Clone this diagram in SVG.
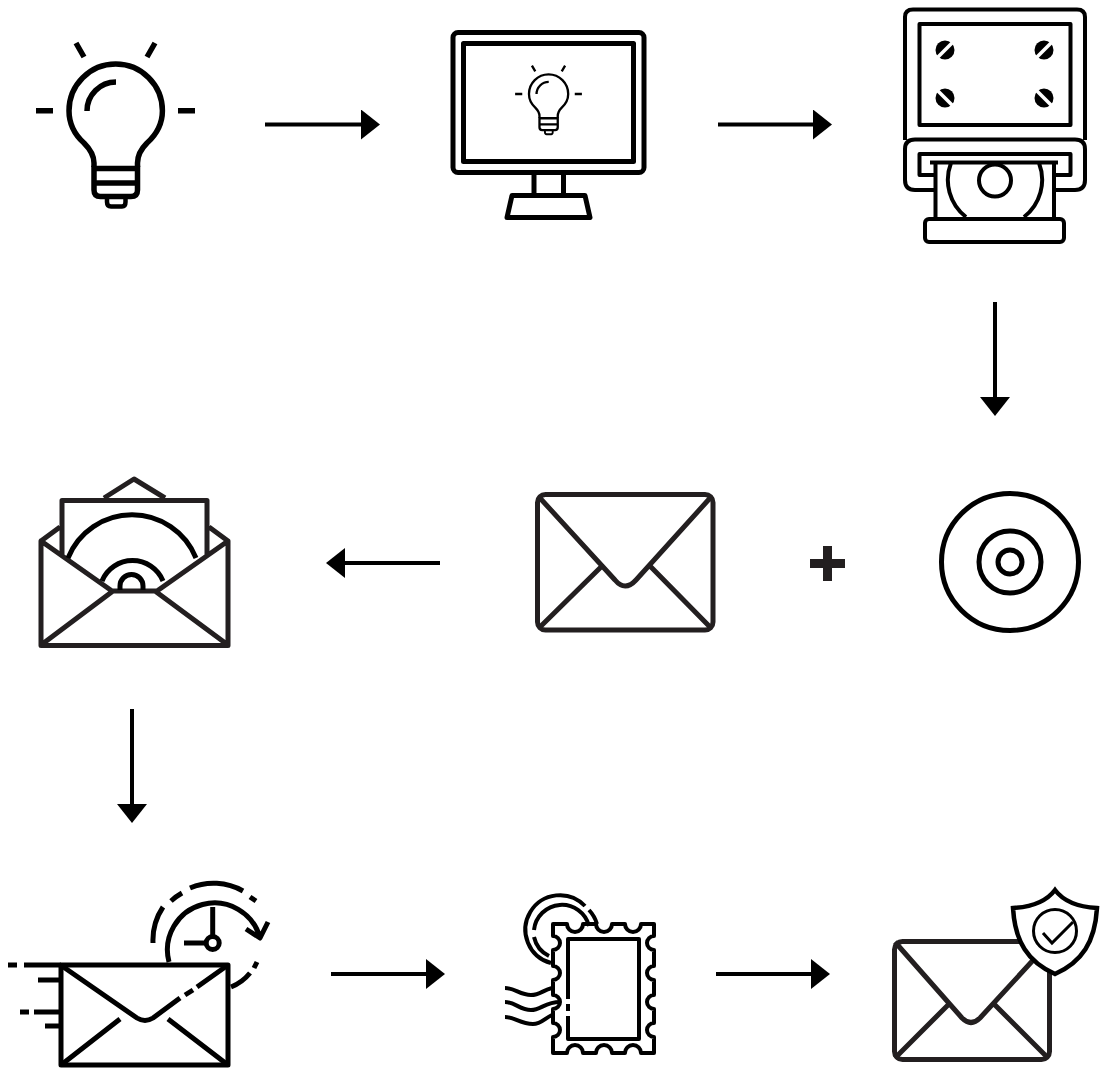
<svg xmlns="http://www.w3.org/2000/svg" xmlns:xlink="http://www.w3.org/1999/xlink" width="1102" height="1068" viewBox="0 0 1102 1068">
<style>
.k{fill:none;stroke:#000;stroke-width:5;stroke-linejoin:round}
.d{fill:none;stroke:#231f20;stroke-width:5;stroke-linejoin:round}
.t{stroke-width:4}
.c{stroke:#000;stroke-width:4;fill:none}
.w{stroke:#fff;stroke-width:3.5}
</style>
<defs>
<marker id="ah" markerUnits="userSpaceOnUse" markerWidth="20" markerHeight="30" refX="0" refY="15" orient="auto"><path d="M0 0L19 15L0 30Z" fill="#000"/></marker>
<g id="bulb" fill="none" stroke="#000" stroke-width="5.5">
<path d="M94 167V163C94 155 90 149 84 143C74 134 69 123 69 110.7A46.7 46.7 0 0 1 162.4 110.7C162.4 123 157 134 147 143C141 149 137.5 155 137.5 163V167"/>
<path d="M94 168.5H137.5V190Q137.5 196.5 131 196.5H100.500Q94 196.500 94 190ZM94 183H137.500"/>
<path d="M107 198V202Q107 206.500 111 206.500H122Q125.500 206.500 125.500 202V198" stroke-width="4.500"/>
<path d="M87 111A29 29 0 0 1 116 82M36 110.700H53M178 110.700H195M76 43L84 57M155 43L147 57"/>
</g>
<g id="screwA"><circle r="9.500" fill="#000"/><path class="w" d="M-9 9L9 -9"/></g>
<g id="screwB"><circle r="9.500" fill="#000"/><path class="w" d="M-9 -9L9 9"/></g>
</defs>
<g id="connectors">
<path class="c" marker-end="url(#ah)" d="M265 124.500H361"/>
<path class="c" marker-end="url(#ah)" d="M718 124.500H813"/>
<path class="c" marker-end="url(#ah)" d="M995 302V397"/>
<path class="c" marker-end="url(#ah)" d="M440 563H345"/>
<path class="c" marker-end="url(#ah)" d="M132 709V804"/>
<path class="c" marker-end="url(#ah)" d="M331 974H426"/>
<path class="c" marker-end="url(#ah)" d="M716 974H811"/>
</g>
<g id="idea"><use href="#bulb"/></g>
<g id="monitor">
<rect class="k" x="453" y="32.500" width="191" height="140" rx="5"/>
<rect class="k" x="463.500" y="43.500" width="170" height="118"/>
<path class="k" d="M534 175V195M563.500 175V195M512 195.500H585L590 217.500H507Z"/>
<use href="#bulb" transform="translate(500 47.500) scale(.42)"/>
</g>
<g id="duplicator">
<path class="k t" d="M905 140V17Q905 9.500 913 9.500H1077Q1085 9.500 1085 17V140"/>
<path class="k t" d="M935 190H915Q905 190 905 180V149Q905 139.500 915 139.500H1075Q1085 139.500 1085 149V180Q1085 190 1075 190H1055"/>
<rect class="k t" x="919.500" y="24" width="151" height="101"/>
<use href="#screwA" x="945" y="50"/><use href="#screwA" x="1044" y="50"/>
<use href="#screwB" x="945" y="98"/><use href="#screwB" x="1044" y="98"/>
<path class="k t" d="M935 175H919.500V154H1070.500V175H1055"/>
<path class="k t" d="M930 162.500H1058M935.500 162V218M1054 162V218M951 163A47 47 0 0 0 966 217M1039 163A47 47 0 0 1 1024 217"/>
<circle class="k t" cx="995" cy="180.500" r="16"/>
<rect class="k t" x="925" y="219" width="139" height="23" rx="4"/>
</g>
<g id="disc">
<circle class="k" cx="1010" cy="562" r="68.500"/>
<circle class="k" cx="1010" cy="562" r="31"/>
<circle class="k" cx="1010" cy="562" r="12"/>
</g>
<g id="plus"><path d="M810 559H823V546H832V559H845V568H832V581H823V568H810Z" fill="#231f20"/></g>
<g id="envelope">
<rect class="d" x="537.500" y="494.500" width="175.500" height="135.500" rx="8"/>
<path class="d" d="M539 497L615 580Q625 592 636 580L711 497M539 628L602 566M711 628L650 566"/>
</g>
<g id="envelope-with-disc">
<path class="d" d="M41 541V645.500H228V541L157 591H112ZM41 541L60 527M228 541L209 527M62 555V500.500H207V555M104 498L134 479L165 498M41 645L113 591M228 645L155 591"/>
<path class="k" d="M68 558A69 69 0 0 1 196 558M102 581A33 33 0 0 1 163 581M120 590V586A11.500 11.500 0 0 1 143 586V590"/>
</g>
<g id="timed-mail">
<rect class="k" x="61" y="965" width="167" height="100" stroke-width="5.500"/>
<path class="k" d="M8 965H17M24 965H61M38 980H60M20 1012H29M34 1012H60M45 1026H60"/>
<path class="k" d="M62 966L137 1018Q145 1023 153 1018L180 998M185 995L193 990M197 987L228 965M61 1065L120 1019M228 1065L168 1019"/>
<path class="k" d="M169 962A47 47 0 1 1 260 938M246 929L260 938L268 922M257 962L254 968M250 973A47 47 0 0 1 231 987M212.700 907V937M184 943H206"/>
<circle class="k" cx="212.700" cy="943" r="6.500" stroke-width="4.500"/>
<path class="k" d="M153 943A60 60 0 0 1 163 907M171 901A60 60 0 0 1 182 893M190 888A60 60 0 0 1 243 891M250 897L256 901"/>
</g>
<g id="stamp">
<path class="k t" d="M553 924H567A8 8 0 0 0 583 924H596A8 8 0 0 0 612 924H625A8 8 0 0 0 641 924H654V936A7 7 0 0 0 654 950V966A7 7 0 0 0 654 980V995A7 7 0 0 0 654 1009V1023A7 7 0 0 0 654 1037V1053H641A8 8 0 0 0 625 1053H612A8 8 0 0 0 596 1053H583A8 8 0 0 0 567 1053H553V1037A7 7 0 0 0 553 1023V1009A7 7 0 0 0 553 995V980A7 7 0 0 0 553 966V950A7 7 0 0 0 553 936Z"/>
<path class="k t" d="M568 999V939H639V1039H568V1016M568 1004V1011"/>
<path class="k t" d="M551 963A34.500 34.500 0 1 1 585 906M589 910A34.500 34.500 0 0 1 597 924M534 930A28 28 0 0 1 589 926M534 937A28 28 0 0 0 549 956"/>
<path class="k t" d="M505 988C515 988 520 995 531 995C540 995 543 990 552 988M505 1002C515 1002 520 1010 531 1010C541 1010 545 1002 560 1002M505 1017C515 1017 520 1024 533 1024C541 1024 545 1018 552 1015"/>
</g>
<g id="secured-mail">
<rect class="d" x="894.500" y="941.500" width="155" height="118" rx="8"/>
<path class="d" d="M895 942L962 1018Q971 1027 980 1018L1036 957M895 1058L948 1005M1048 1058L995 1005"/>
<path d="M1055 890C1046 902 1031 907 1013 908C1015 942 1028 962 1055 974C1082 962 1095 942 1097 908C1079 907 1064 902 1055 890Z" fill="#fff" stroke="#000" stroke-width="4.500"/>
<circle cx="1055" cy="931" r="21.500" fill="none" stroke="#000" stroke-width="3"/>
<path d="M1043 933L1052 943L1073 922" fill="none" stroke="#000" stroke-width="3"/>
</g>
</svg>
